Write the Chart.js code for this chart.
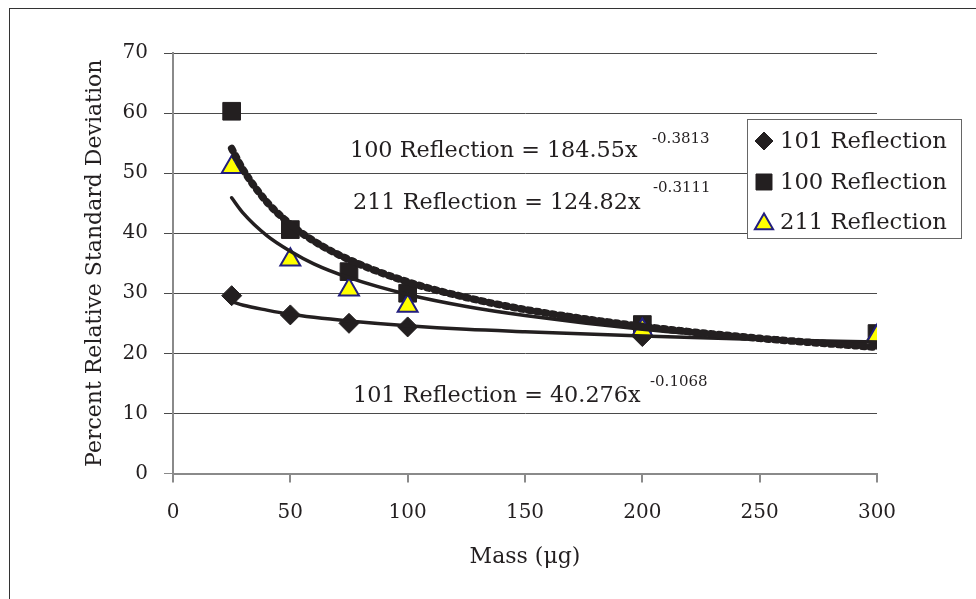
<!DOCTYPE html>
<html>
<head>
<meta charset="utf-8">
<title>Percent RSD vs mass</title>
<script src="https://cdn.jsdelivr.net/npm/chart.js@4.4.1/dist/chart.umd.min.js"></script>
<style>
  html, body { margin: 0; padding: 0; background: #fff; }
  canvas { display: block; }
</style>
</head>
<body>
<canvas id="rsdChart" width="976" height="599"></canvas>
<script>
// measured points, x in micrograms
const massValues = [25, 50, 75, 100, 200, 300];
const rsd101 = [29.6, 26.4, 25.0, 24.4, 22.8, 22.3];
const rsd100 = [60.3, 40.6, 33.6, 30.0, 24.8, 23.3];
const rsd211 = [51.0, 35.6, 30.6, 27.9, 23.9, 22.9];

// trendlines
const trendMass = [25, 30, 40, 50, 60, 75, 100, 125, 150, 200, 250, 300];
const trend101 = [28.6, 28.0, 27.2, 26.5, 26.0, 25.4, 24.6, 24.0, 23.6, 22.9, 22.3, 21.9];
const trend100 = [54.1, 50.5, 45.2, 41.5, 38.7, 35.6, 31.9, 29.3, 27.3, 24.5, 22.5, 21.0];
const trend211 = [45.9, 43.3, 39.6, 37.0, 34.9, 32.6, 29.8, 27.8, 26.3, 24.0, 22.4, 21.2];

const seriesLabels = ['101 Reflection', '100 Reflection', '211 Reflection'];
const equationTexts = [
  ['100 Reflection = 184.55x', '-0.3813'],
  ['211 Reflection = 124.82x', '-0.3111'],
  ['101 Reflection = 40.276x', '-0.1068']
];
const xTicks = [0, 50, 100, 150, 200, 250, 300];
const yTicks = [0, 10, 20, 30, 40, 50, 60, 70];

(function () {
  const ink = '#231f20';
  const serif = "'DejaVu Serif', serif";
  Chart.defaults.font.family = serif;
  Chart.defaults.color = ink;

  function toPoints(xs, ys) {
    return xs.map((x, i) => ({ x: x, y: ys[i] }));
  }

  function trendDataset(ys, dashed) {
    return {
      label: 'trend',
      data: toPoints(trendMass, ys),
      showLine: true,
      borderColor: ink,
      borderWidth: dashed ? 7.5 : 3.5,
      borderDash: dashed ? [2.5, 5.5] : [],
      borderCapStyle: 'round',
      cubicInterpolationMode: 'monotone',
      pointRadius: 0,
      order: 0
    };
  }

  const markerSets = [
    { label: seriesLabels[0], data: toPoints(massValues, rsd101), pointStyle: 'rectRot', pointRadius: 10,
      backgroundColor: ink, borderColor: ink, borderWidth: 1, order: 3, legendRadius: 9 },
    { label: seriesLabels[1], data: toPoints(massValues, rsd100), pointStyle: 'rect', pointRadius: 12.5,
      backgroundColor: ink, borderColor: ink, borderWidth: 1, order: 2, legendRadius: 11.3 },
    { label: seriesLabels[2], data: toPoints(massValues, rsd211), pointStyle: 'triangle', pointRadius: 11.5,
      backgroundColor: '#ffff00', borderColor: '#221e7f', borderWidth: 2, order: 1, legendRadius: 10.5 }
  ];
  markerSets.forEach((d) => { d.showLine = false; d.pointHoverRadius = d.pointRadius; });

  function drawMarker(ctx, style, x, y, r) {
    ctx.beginPath();
    if (style === 'rectRot') {
      ctx.moveTo(x, y - r); ctx.lineTo(x + r, y); ctx.lineTo(x, y + r); ctx.lineTo(x - r, y);
    } else if (style === 'rect') {
      const h = r * Math.SQRT1_2;
      ctx.rect(x - h, y - h, 2 * h, 2 * h);
    } else {
      let rad = 0;
      ctx.moveTo(x + Math.sin(rad) * r, y - Math.cos(rad) * r);
      rad += Math.PI * 2 / 3;
      ctx.lineTo(x + Math.sin(rad) * r, y - Math.cos(rad) * r);
      rad += Math.PI * 2 / 3;
      ctx.lineTo(x + Math.sin(rad) * r, y - Math.cos(rad) * r);
    }
    ctx.closePath();
    ctx.fill();
    ctx.stroke();
  }

  const framePlugin = {
    id: 'frame',
    beforeDraw(chart) {
      const ctx = chart.ctx;
      ctx.save();
      ctx.fillStyle = '#fff';
      ctx.fillRect(0, 0, chart.width, chart.height);
      ctx.strokeStyle = '#333';
      ctx.lineWidth = 1;
      ctx.strokeRect(9.5, 8.5, chart.width + 10, chart.height + 10);
      ctx.restore();
    }
  };

  const notesPlugin = {
    id: 'notes',
    afterDraw(chart) {
      const ctx = chart.ctx;
      ctx.save();
      ctx.fillStyle = ink;
      ctx.textBaseline = 'alphabetic';
      ctx.textAlign = 'left';
      const spots = [[350, 157, 652, 143], [353, 209, 653, 192], [353, 402, 650, 386]];
      equationTexts.forEach((t, i) => {
        const s = spots[i];
        ctx.font = '22.3px ' + serif;
        ctx.fillText(t[0], s[0], s[1]);
        ctx.font = '15px ' + serif;
        ctx.fillText(t[1], s[2], s[3]);
      });

      // legend box overlapping the plot
      ctx.fillStyle = '#fff';
      ctx.fillRect(747, 119, 214, 119);
      ctx.strokeStyle = '#666';
      ctx.lineWidth = 1;
      ctx.strokeRect(747.5, 119.5, 214, 119);
      const rows = [141, 182, 222];
      markerSets.forEach((d, i) => {
        ctx.fillStyle = d.backgroundColor;
        ctx.strokeStyle = d.borderColor;
        ctx.lineWidth = d.borderWidth;
        drawMarker(ctx, d.pointStyle, 764, d.pointStyle === 'triangle' ? rows[i] + 2 : rows[i], d.legendRadius);
        ctx.fillStyle = ink;
        ctx.font = '22.7px ' + serif;
        ctx.textBaseline = 'middle';
        ctx.fillText(d.label, 780, rows[i] + 1);
      });
      ctx.restore();
    }
  };

  new Chart('rsdChart', {
    type: 'scatter',
    data: {
      datasets: [trendDataset(trend100, true), trendDataset(trend211, false), trendDataset(trend101, false)]
        .concat(markerSets)
    },
    options: {
      responsive: false,
      animation: false,
      layout: { padding: { top: 53, right: 99, bottom: 0, left: 0 } },
      plugins: { legend: { display: false }, tooltip: { enabled: false } },
      scales: {
        x: {
          type: 'linear', min: 0, max: 300,
          afterFit(scale) { scale.height = 125.5; },
          afterBuildTicks(scale) { scale.ticks = xTicks.map((v) => ({ value: v })); },
          ticks: { padding: 18, font: { size: 20 }, color: ink },
          grid: { drawOnChartArea: false, drawTicks: true, tickLength: 9, color: '#8a8a8a', lineWidth: 2 },
          border: { color: '#8a8a8a', width: 2 },
          title: { display: true, text: 'Mass (μg)', font: { size: 22 }, color: ink, padding: { top: 0, bottom: 29 } }
        },
        y: {
          type: 'linear', min: 0, max: 70,
          afterFit(scale) { scale.width = 173; },
          afterBuildTicks(scale) { scale.ticks = yTicks.map((v) => ({ value: v })); },
          ticks: { padding: 16, font: { size: 20 }, color: ink },
          grid: {
            tickLength: 9,
            color: (c) => (c.tick && c.tick.value === 0 ? '#8a8a8a' : '#4a4a4a'),
            lineWidth: 1
          },
          border: { color: '#8a8a8a', width: 2 },
          title: {
            display: true, text: 'Percent Relative Standard Deviation', font: { size: 22 }, color: ink,
            padding: { top: 82, bottom: 0 }
          }
        }
      }
    },
    plugins: [framePlugin, notesPlugin]
  });
})();
</script>
</body>
</html>
